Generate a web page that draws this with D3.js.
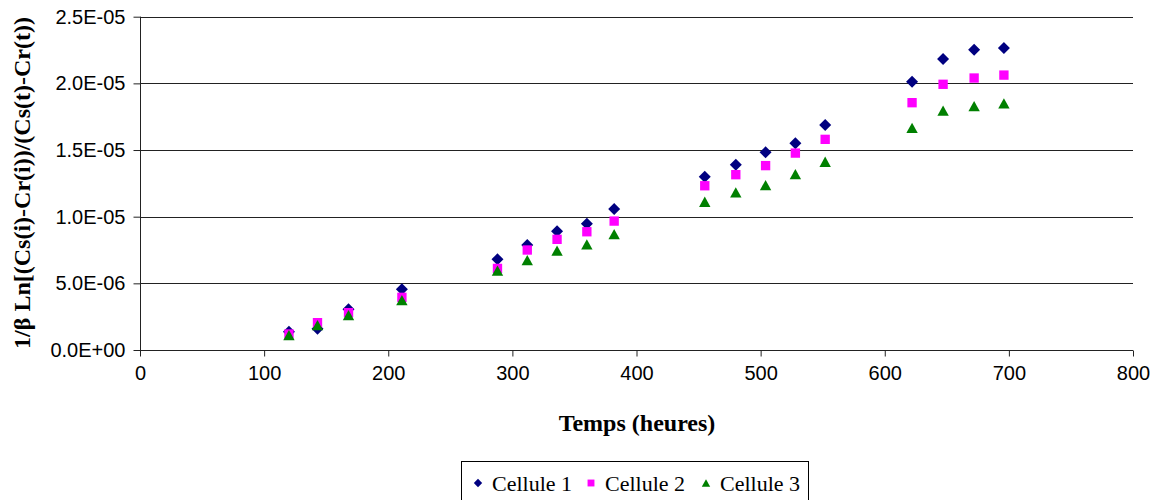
<!DOCTYPE html>
<html><head><meta charset="utf-8">
<script src="https://cdn.jsdelivr.net/npm/d3@7"></script>
<style>body{margin:0;background:#fff}svg{display:block}</style>
</head><body><svg id="c" width="1158" height="500"></svg>
<script>
const hours = [120,143,168,211,288,312,336,360,382,455,480,504,528,552,622,647,672,696];
const cellule1 = [1.37e-6,1.6e-6,3.05e-6,4.55e-6,6.8e-6,7.87e-6,8.9e-6,9.47e-6,1.057e-5,1.30e-5,1.39e-5,1.483e-5,1.55e-5,1.687e-5,2.012e-5,2.183e-5,2.253e-5,2.265e-5];
const cellule2 = [1.2e-6,2.05e-6,2.8e-6,3.95e-6,6.12e-6,7.5e-6,8.3e-6,8.87e-6,9.67e-6,1.232e-5,1.315e-5,1.383e-5,1.477e-5,1.58e-5,1.855e-5,1.993e-5,2.04e-5,2.062e-5];
const cellule3 = [1.12e-6,1.87e-6,2.62e-6,3.75e-6,5.95e-6,6.75e-6,7.45e-6,7.92e-6,8.7e-6,1.112e-5,1.183e-5,1.237e-5,1.32e-5,1.412e-5,1.667e-5,1.795e-5,1.83e-5,1.85e-5];
const seriesNames = ["Cellule 1","Cellule 2","Cellule 3"];
const xTicks = [0,100,200,300,400,500,600,700,800];
const yTicks = [0,5e-6,1e-5,1.5e-5,2e-5,2.5e-5];
const xTitle = "Temps (heures)";
const yTitle = "1/β Ln[(Cs(i)-Cr(i))/(Cs(t)-Cr(t))";

const colors = ["#000080","#FF00FF","#008000"];
const shapes = ["diamond","square","triangle"];
function shapePath(kind, s){
  if(kind==="diamond") return `M0,${-s}L${s},0L0,${s}L${-s},0Z`;
  if(kind==="square") return `M${-s*0.82},${-s*0.82}H${s*0.82}V${s*0.82}H${-s*0.82}Z`;
  return `M0,${-s*0.9}L${s},${s*0.9}L${-s},${s*0.9}Z`;
}
function fmtE(v){
  const [m,e] = v.toExponential(1).split("e");
  const n = +e;
  return m + "E" + (n<0?"-":"+") + String(Math.abs(n)).padStart(2,"0");
}

const svg = d3.select("#c");
const x = d3.scaleLinear().domain([0,800]).range([140,1133]);
const y = d3.scaleLinear().domain([0,2.5e-5]).range([350,16.7]);

// gridlines
svg.append("g").selectAll("line").data(yTicks.slice(1)).join("line")
  .attr("x1",x(0)).attr("x2",x(800)).attr("y1",d=>Math.round(y(d))+0.5).attr("y2",d=>Math.round(y(d))+0.5)
  .attr("stroke","#222").attr("stroke-width",1);

// x axis
const xAxis = d3.axisBottom(x).tickValues(xTicks).tickSize(6).tickPadding(9).tickFormat(d3.format("d"));
const gx = svg.append("g").attr("transform","translate(0,350.5)").call(xAxis);
gx.select(".domain").attr("stroke","#222").attr("d",`M${x(0)},0H${x(800)}`);
gx.selectAll(".tick line").attr("stroke","#222");
gx.selectAll("text").attr("font-family","Liberation Sans, Arial, sans-serif").attr("font-size",20).attr("fill","#000");

// y axis
const yAxis = d3.axisLeft(y).tickValues(yTicks).tickSize(7).tickPadding(8).tickFormat(fmtE);
const gy = svg.append("g").attr("transform","translate(140.5,0)").call(yAxis);
gy.select(".domain").attr("stroke","#222").attr("d",`M0,${y(0)}V${y(2.5e-5)}`);
gy.selectAll(".tick line").attr("stroke","#222");
gy.selectAll("text").attr("font-family","Liberation Sans, Arial, sans-serif").attr("font-size",20).attr("fill","#000");

// points
const allSeries = [cellule1,cellule2,cellule3];
allSeries.forEach((vals,i)=>{
  svg.append("g").selectAll("path").data(vals).join("path")
    .attr("transform",(d,j)=>`translate(${x(hours[j])},${y(d)})`)
    .attr("d",shapePath(shapes[i], i===0?6:5.7))
    .attr("fill",colors[i]);
});

// titles
svg.append("text").attr("x",637).attr("y",431).attr("text-anchor","middle")
  .attr("font-family","Liberation Serif, Times New Roman, serif").attr("font-weight","bold").attr("font-size",24)
  .text(xTitle);
svg.append("text").attr("transform","translate(30,183) rotate(-90)").attr("text-anchor","middle")
  .attr("font-family","Liberation Serif, Times New Roman, serif").attr("font-weight","bold").attr("font-size",24)
  .text(yTitle);

// legend
const lg = svg.append("g");
lg.append("rect").attr("x",461.5).attr("y",461.5).attr("width",347).attr("height",50)
  .attr("fill","none").attr("stroke","#000").attr("stroke-width",1);
const legX = [478,591,706];
seriesNames.forEach((n,i)=>{
  lg.append("path").attr("transform",`translate(${legX[i]},483)`).attr("d",shapePath(shapes[i],4.2)).attr("fill",colors[i]);
  lg.append("text").attr("x",legX[i]+14).attr("y",491)
    .attr("font-family","Liberation Serif, Times New Roman, serif").attr("font-size",22).text(n);
});
</script></body></html>
